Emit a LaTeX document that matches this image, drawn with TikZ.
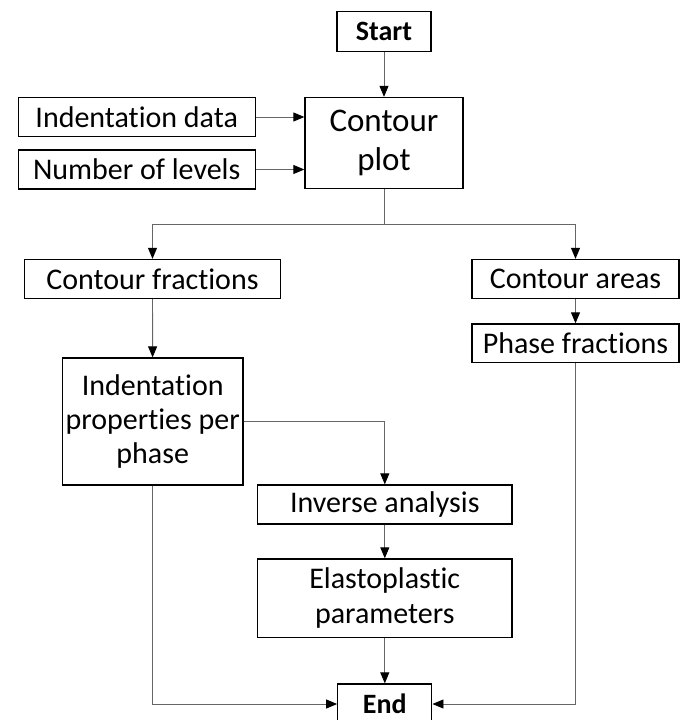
\documentclass[tikz,border=0pt]{standalone}
\usepackage{fontspec}
\setmainfont{Carlito}[Ligatures=NoCommon]
\usetikzlibrary{arrows.meta, positioning}

\begin{document}
\begin{tikzpicture}[
        x=1pt, y=-1pt,
        box/.style={draw=black, line width=1.3pt, fill=white, inner sep=0pt, align=center, font=\fontsize{30}{34}\selectfont},
        term/.style={box, minimum width=94pt, minimum height=40pt, font=\fontsize{28}{30}\selectfont\bfseries},
        arrow/.style={-{Triangle[length=11pt, width=9pt, black]}, line width=0.9pt, black!60},
        line/.style={line width=0.9pt, black!60}
    ]
        \useasboundingbox (0,0) rectangle (683,720);

        \node[term] (start) at (384,31.5) {Start};
        \node[box, minimum width=158pt, minimum height=91pt, font=\fontsize{33}{39}\selectfont] (plot) at (384,143) {Contour\\plot};
        \node[box, minimum width=237pt, minimum height=38.5pt] (data) at (136.7,117) {Indentation data};
        \node[box, minimum width=237pt, minimum height=39pt] (levels) at (136.7,169.5) {Number of levels};

        \node[box, minimum width=256pt, minimum height=39pt] (fractions) at (152.5,279) {Contour fractions};
        \node[box, minimum width=207pt, minimum height=39pt] (areas) at (575.5,279) {Contour areas};
        \node[box, minimum width=207pt, minimum height=38.7pt] (phasefr) at (575.5,343.3) {Phase fractions};

        \node[box, minimum width=180.5pt, minimum height=127pt] (props) at (152.7,421.5) {Indentation\\properties per\\phase};
        \node[box, minimum width=254.4pt, minimum height=39pt] (inverse) at (384.8,504.5) {Inverse analysis};
        \node[box, minimum width=254.4pt, minimum height=78.7pt, font=\fontsize{30}{35}\selectfont] (elasto) at (384.8,598.3) {Elastoplastic\\parameters};
        \node[term] (finish) at (384.8,704) {End};

        \coordinate (split) at (384,224);

        \draw[arrow] (start) -- (plot);
        \draw[arrow] (data) -- (data -| plot.west);
        \draw[arrow] (levels) -- (levels -| plot.west);
        \draw[line] (plot.south) -- (split);
        \draw[arrow] (split) -| (fractions.north);
        \draw[arrow] (split) -| (areas.north);
        \draw[arrow] (areas) -- (phasefr);
        \draw[arrow] (fractions) -- (props);
        \draw[arrow] (props.east) -| (inverse.north);
        \draw[arrow] (inverse) -- (elasto);
        \draw[arrow] (elasto) -- (finish);
        \draw[arrow] (props.south) |- (finish.west);
        \draw[arrow] (phasefr.south) |- (finish.east);
    \end{tikzpicture}
\end{document}
